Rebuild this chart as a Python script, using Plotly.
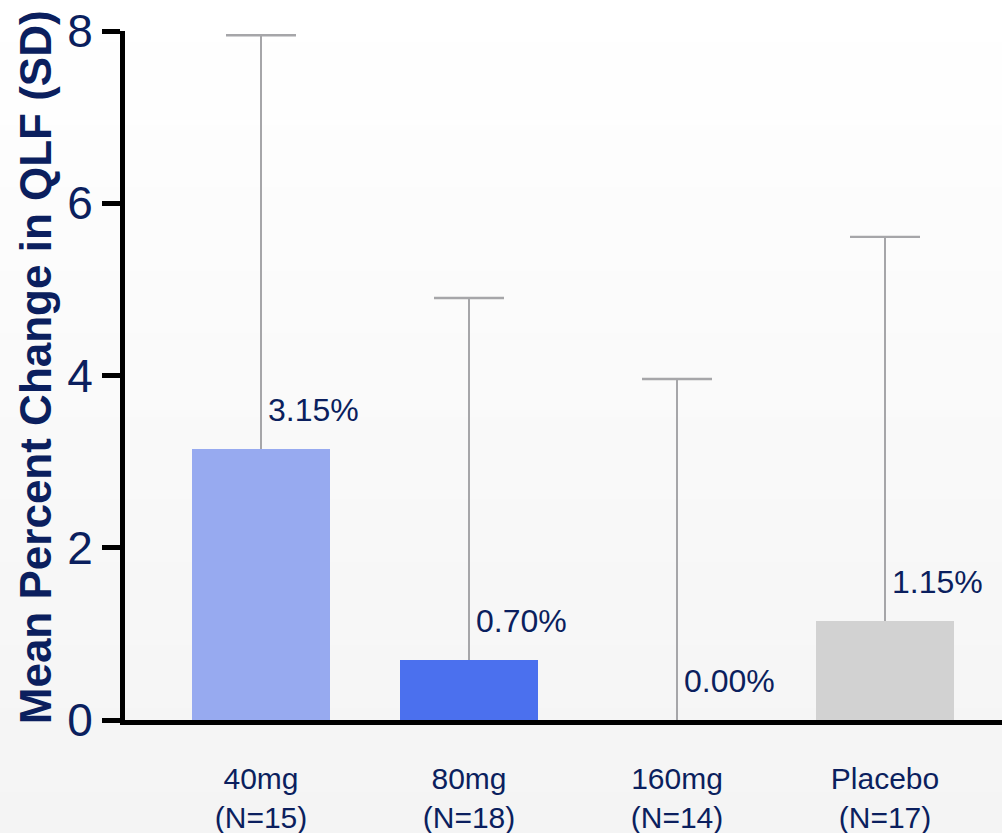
import plotly.graph_objects as go

# Treatment groups and their results
groups = ["40mg", "80mg", "160mg", "Placebo"]
group_n = ["(N=15)", "(N=18)", "(N=14)", "(N=17)"]
mean_change = [3.15, 0.70, 0.00, 1.15]
sd_values = [4.80, 4.20, 3.96, 4.46]
bar_colors = ["#97aaf0", "#4b70ee", "#d2d2d2", "#d2d2d2"]
y_ticks = [0, 2, 4, 6, 8]

NAVY = "#0b1f5e"
WHISKER = "#a6a6a9"
FONT = "Liberation Sans, Arial, sans-serif"

W, H = 1002, 833
M_L, M_R, M_T, M_B = 125, 0, 31, 113

x_pos = list(range(len(groups)))
sd_top = [m + s for m, s in zip(mean_change, sd_values)]

fig = go.Figure()
# Bars with an upward-only SD whisker (no caps on the error bar itself)
fig.add_trace(go.Bar(
    x=x_pos,
    y=mean_change,
    width=0.663,
    marker=dict(color=bar_colors, line=dict(width=0)),
    error_y=dict(type="data", symmetric=False, array=sd_values,
                 arrayminus=[0] * len(groups),
                 color=WHISKER, thickness=2.2, width=0),
    hoverinfo="skip",
))
# Top caps of the SD whiskers
fig.add_trace(go.Scatter(
    x=x_pos, y=sd_top, mode="markers",
    marker=dict(symbol="line-ew", size=50,
                line=dict(color=WHISKER, width=2.4)),
    hoverinfo="skip", cliponaxis=False,
))

# Value labels placed beside each whisker, just above the bar
for xi, v in zip(x_pos, mean_change):
    fig.add_annotation(
        x=xi, y=v, text=f"{v:.2f}%", showarrow=False,
        xanchor="left", yanchor="middle", xshift=5, yshift=39,
        font=dict(family=FONT, size=32, color=NAVY),
    )

# Vertical axis title
fig.add_annotation(
    xref="paper", yref="paper", x=0, y=0.512, xshift=-90,
    text="<b>Mean Percent Change in QLF (SD)</b>", textangle=-90,
    showarrow=False, xanchor="center", yanchor="middle",
    font=dict(family=FONT, size=44, color=NAVY),
)

# Soft vertical background gradient (white to light grey)
plot_h = H - M_T - M_B
plot_w = W - M_L - M_R
n_bands = 40
shapes = []
for i in range(n_bands):
    t = i / (n_bands - 1)
    c = round(255 - t * 11)
    y0_px = H * i / n_bands
    y1_px = H * (i + 1) / n_bands + 1
    shapes.append(dict(
        type="rect", xref="paper", yref="paper", layer="below",
        x0=-M_L / plot_w, x1=1 + M_R / plot_w + 0.01,
        y0=(H - M_B - y1_px) / plot_h, y1=(H - M_B - y0_px) / plot_h,
        fillcolor=f"rgb({c},{c},{c})", line=dict(width=0),
    ))

left = -(261 - M_L) / 208
fig.update_layout(
    width=W, height=H,
    margin=dict(l=M_L, r=M_R, t=M_T, b=M_B, pad=0),
    paper_bgcolor="#fafafa", plot_bgcolor="rgba(0,0,0,0)",
    showlegend=False, shapes=shapes,
    bargap=0,
    xaxis=dict(
        range=[left, left + plot_w / 208], tickmode="array",
        tickvals=x_pos,
        ticktext=[f"{g}<br>{n}" for g, n in zip(groups, group_n)],
        tickfont=dict(family=FONT, size=30, color=NAVY),
        showline=True, linecolor="black", linewidth=5,
        ticks="", showgrid=False, zeroline=False,
        ticklabelstandoff=28, fixedrange=True,
    ),
    yaxis=dict(
        range=[0, 8], tickmode="array", tickvals=y_ticks,
        tickfont=dict(family=FONT, size=46, color=NAVY),
        showline=True, linecolor="black", linewidth=5,
        ticks="outside", ticklen=18, tickwidth=5, tickcolor="black",
        showgrid=False, zeroline=False, fixedrange=True,
    ),
)

fig.write_html("out.html")
